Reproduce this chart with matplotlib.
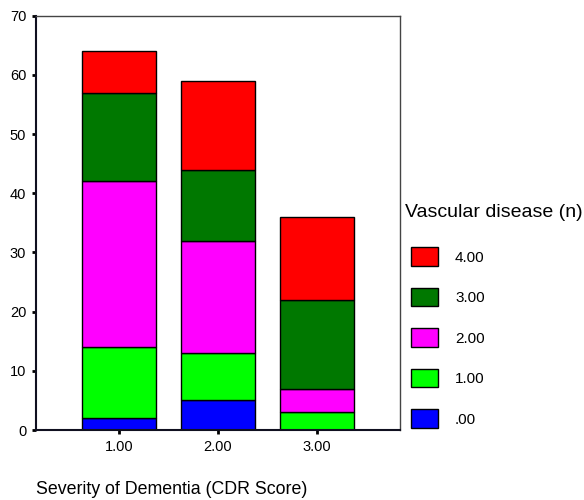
import matplotlib
matplotlib.use("Agg")
import matplotlib.pyplot as plt
import numpy as np

plt.rcParams['font.family'] = ['Liberation Sans', 'DejaVu Sans']

categories = ["1.00", "2.00", "3.00"]
series_labels = [".00", "1.00", "2.00", "3.00", "4.00"]
series_colors = ["#0000ff", "#00ff00", "#ff00ff", "#007800", "#ff0000"]
values = {
    ".00":  [2, 5, 0],
    "1.00": [12, 8, 3],
    "2.00": [28, 19, 4],
    "3.00": [15, 12, 15],
    "4.00": [7, 15, 14],
}

fig = plt.figure(figsize=(5.84, 5.00), dpi=100)
ax = fig.add_axes([36/584, 70/500, 364/584, 414.3/500])

x = np.arange(1, len(categories) + 1)
bottom = np.zeros(len(categories))
handles = []
for lab, col in zip(series_labels, series_colors):
    v = np.array(values[lab], dtype=float)
    h = ax.bar(x, v, width=0.75, bottom=bottom, color=col, edgecolor='black',
               linewidth=1.0, label=lab)
    handles.append(h)
    bottom += v

ax.set_xlim(1 - 0.835, 3 + 0.835)
ax.set_ylim(0, 70)
ax.set_yticks(np.arange(0, 71, 10))
ax.set_xticks(x)
ax.set_xticklabels(categories)
ax.tick_params(axis='both', direction='out', length=3, width=2, labelsize=10.5, colors='black', pad=4)
for s in ['left', 'bottom']:
    ax.spines[s].set_color('#101020')
    ax.spines[s].set_linewidth(1.5)
for s in ['top', 'right']:
    ax.spines[s].set_color('#444444')
    ax.spines[s].set_linewidth(1.0)

fig.text(36/584, 1 - 494/500, "Severity of Dementia (CDR Score)", fontsize=12.8,
         ha='left', va='baseline')

fig.text(405/584, 1 - 217/500, "Vascular disease (n)", fontsize=14,
         ha='left', va='baseline')

leg = fig.legend(handles[::-1], series_labels[::-1], loc='upper left',
                 bbox_to_anchor=(411/584, 1 - 247.5/500), frameon=False,
                 fontsize=11,
                 handlelength=1.75, handleheight=1.466, labelspacing=1.45,
                 handletextpad=1.13, borderaxespad=0, borderpad=0)

fig.savefig("out.png", dpi=100)
